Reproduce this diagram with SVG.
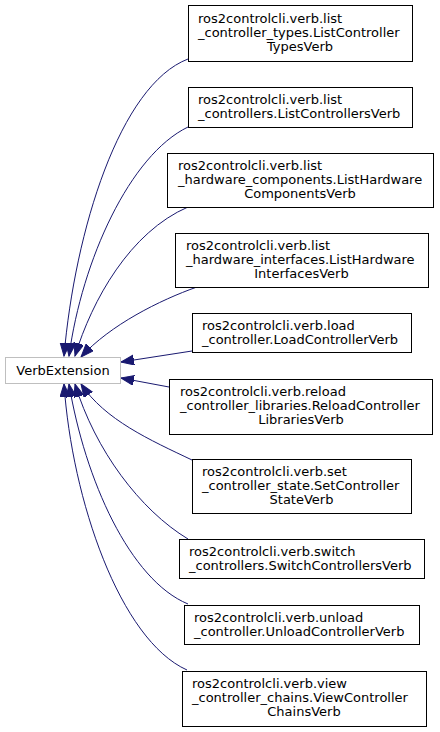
<svg xmlns="http://www.w3.org/2000/svg" width="440" height="732" viewBox="0 0 440 732">
<defs>
<style>
.n{fill:#fff;stroke:#000;stroke-width:1}
.b{fill:#fff;stroke:#bfbfbf;stroke-width:1}
text{font-family:"DejaVu Sans",sans-serif;font-size:13px;fill:#000}
.m{text-anchor:middle}
.e{fill:none;stroke:#191970;stroke-width:1;marker-end:url(#ah)}
</style>
<marker id="ah" markerUnits="userSpaceOnUse" markerWidth="14" markerHeight="12" refX="13" refY="5" orient="auto">
<path d="M0,0 L13,5 L0,10 z" fill="#191970" stroke="#191970"/>
</marker>
</defs>
<rect width="440" height="732" fill="#fff"/>
<g id="edges">
<path class="e" d="M188,59 C120,85 75,230 64,356"/>
<path class="e" d="M188,127 C130,155 82,260 69,356"/>
<path class="e" d="M188,207 C130,232 92,300 75,356"/>
<path class="e" d="M197,287 C160,300 110,325 81,357"/>
<path class="e" d="M192,351 L121,362"/>
<path class="e" d="M169,387 L121,378"/>
<path class="e" d="M192,460 C150,440 105,420 81,384"/>
<path class="e" d="M188,539 C140,510 95,450 75,384"/>
<path class="e" d="M188,604 C130,580 85,480 69,384"/>
<path class="e" d="M187,670 C120,640 72,500 64,384"/>
</g>
<g id="VerbExtension">
<rect class="b" x="5.5" y="357.5" width="115" height="26"/>
<text class="m" x="63" y="375">VerbExtension</text>
</g>
<g id="ListControllerTypesVerb">
<rect class="n" x="188.5" y="5.5" width="224" height="56"/>
<text x="198" y="23">ros2controlcli.verb.list</text>
<text x="198" y="37">_controller_types.ListController</text>
<text class="m" x="300" y="51">TypesVerb</text>
</g>
<g id="ListControllersVerb">
<rect class="n" x="188.5" y="87.5" width="224" height="40"/>
<text x="198" y="104">ros2controlcli.verb.list</text>
<text x="198" y="118">_controllers.ListControllersVerb</text>
</g>
<g id="ListHardwareComponentsVerb">
<rect class="n" x="167.5" y="153.5" width="266" height="54"/>
<text x="178" y="170">ros2controlcli.verb.list</text>
<text x="178" y="184">_hardware_components.ListHardware</text>
<text class="m" x="300" y="198">ComponentsVerb</text>
</g>
<g id="ListHardwareInterfacesVerb">
<rect class="n" x="175.5" y="233.5" width="253" height="54"/>
<text x="186" y="250">ros2controlcli.verb.list</text>
<text x="186" y="264">_hardware_interfaces.ListHardware</text>
<text class="m" x="301.5" y="278">InterfacesVerb</text>
</g>
<g id="LoadControllerVerb">
<rect class="n" x="192.5" y="313.5" width="219" height="39"/>
<text x="202" y="330">ros2controlcli.verb.load</text>
<text x="202" y="344">_controller.LoadControllerVerb</text>
</g>
<g id="ReloadControllerLibrariesVerb">
<rect class="n" x="169.5" y="379.5" width="263" height="55"/>
<text x="180" y="396">ros2controlcli.verb.reload</text>
<text x="180" y="410">_controller_libraries.ReloadController</text>
<text class="m" x="301" y="424">LibrariesVerb</text>
</g>
<g id="SetControllerStateVerb">
<rect class="n" x="192.5" y="459.5" width="219" height="54"/>
<text x="202" y="476">ros2controlcli.verb.set</text>
<text x="202" y="490">_controller_state.SetController</text>
<text class="m" x="301.5" y="504">StateVerb</text>
</g>
<g id="SwitchControllersVerb">
<rect class="n" x="179.5" y="539.5" width="245" height="39"/>
<text x="189" y="556">ros2controlcli.verb.switch</text>
<text x="189" y="570">_controllers.SwitchControllersVerb</text>
</g>
<g id="UnloadControllerVerb">
<rect class="n" x="184.5" y="605.5" width="235" height="39"/>
<text x="194" y="622">ros2controlcli.verb.unload</text>
<text x="194" y="636">_controller.UnloadControllerVerb</text>
</g>
<g id="ViewControllerChainsVerb">
<rect class="n" x="182.5" y="671.5" width="244" height="55"/>
<text x="192" y="688">ros2controlcli.verb.view</text>
<text x="192" y="702">_controller_chains.ViewController</text>
<text class="m" x="304" y="716">ChainsVerb</text>
</g>
</svg>
